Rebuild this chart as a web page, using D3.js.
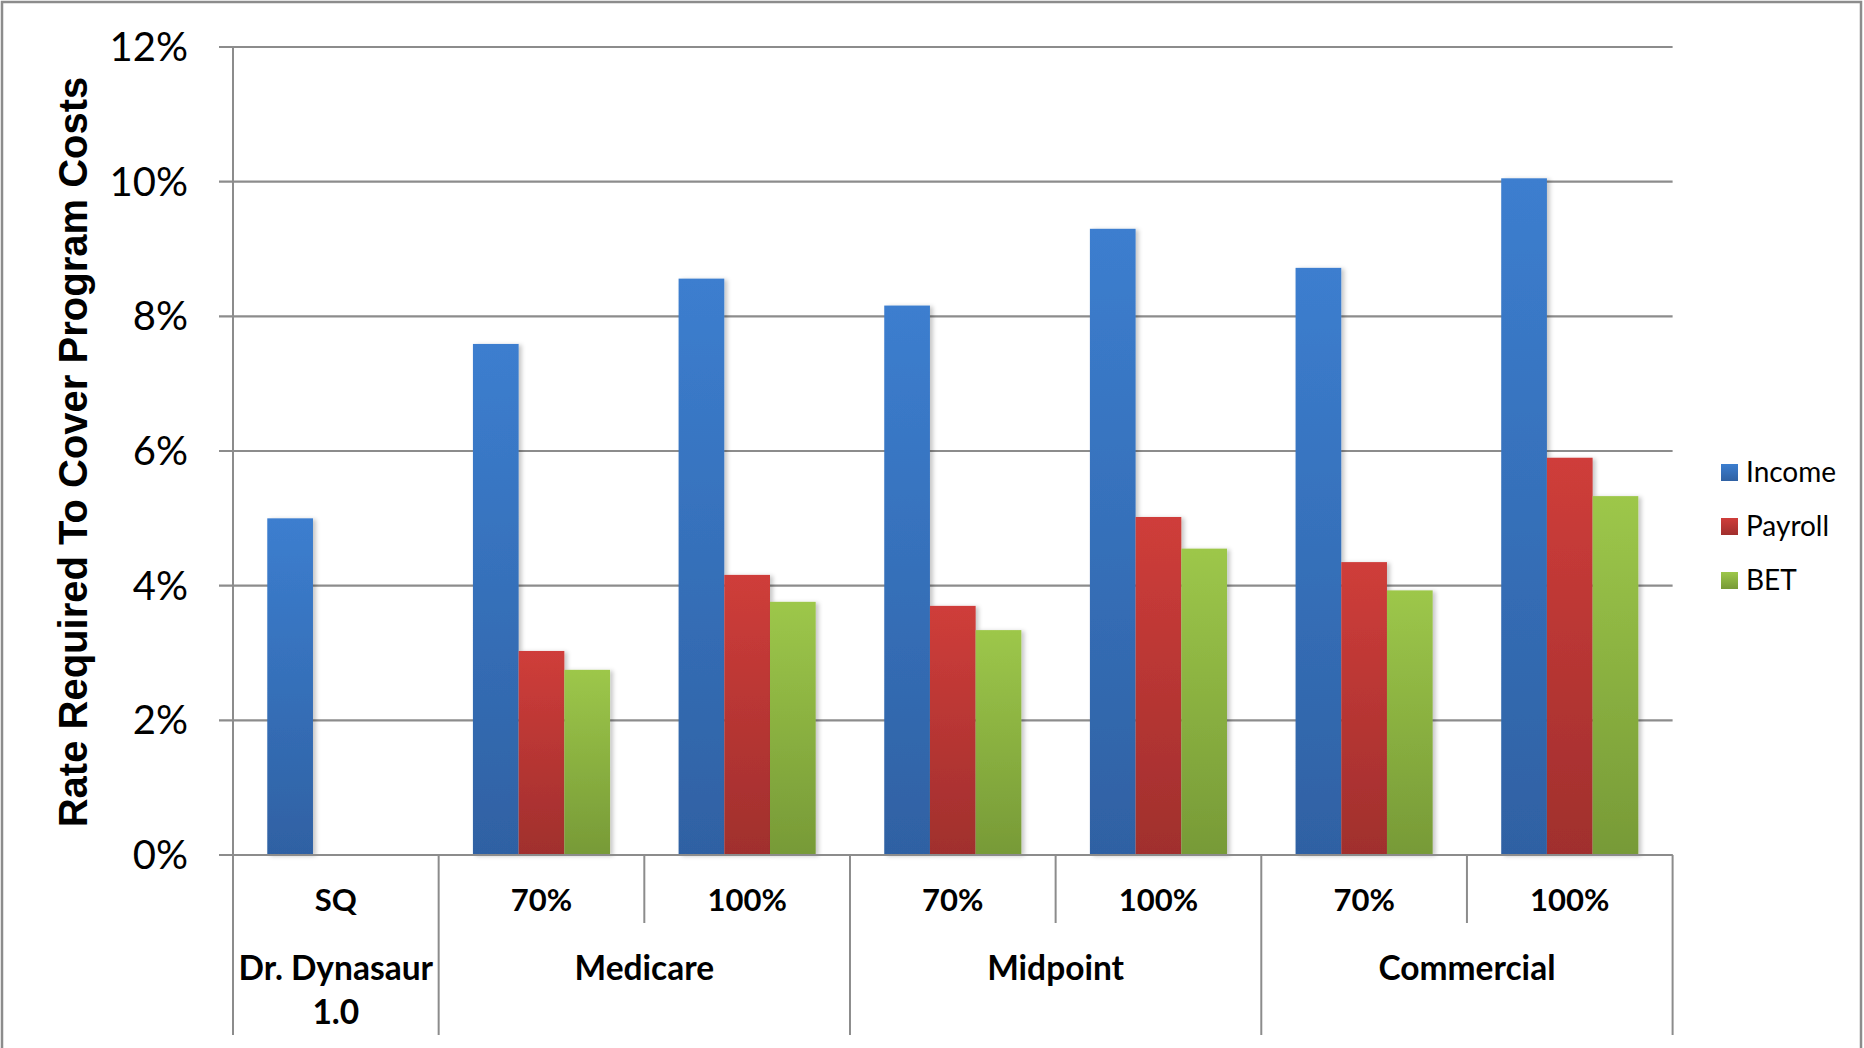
<!DOCTYPE html>
<html><head><meta charset="utf-8">
<script src="https://cdn.jsdelivr.net/npm/d3@7/dist/d3.min.js"></script>
<style>body{margin:0;background:#fff}svg{display:block}</style>
</head><body>
<script>
const subLabels = ["SQ","70%","100%","70%","100%","70%","100%"];
const groupLabels = [["Dr. Dynasaur","1.0"],["Medicare"],["Midpoint"],["Commercial"]];
const groupSpans = [1,2,2,2];
const seriesNames = ["Income","Payroll","BET"];
const income  = [5.00, 7.59, 8.56, 8.16, 9.30, 8.72, 10.05];
const payroll = [null, 3.03, 4.16, 3.70, 5.02, 4.35, 5.90];
const bet     = [null, 2.75, 3.76, 3.34, 4.55, 3.93, 5.33];
const yTicks = [0,2,4,6,8,10,12];
const yTitle = "Rate Required To Cover Program Costs";

const W=1864,H=1048;
const L=233,R=1672.6,T=47,B=855;
const svg=d3.select("body").append("svg").attr("width",W).attr("height",H);
const defs=svg.append("defs");
const grads=[["#3c7ecf","#2f61a3"],["#cf3d3a","#a02f2d"],["#9dc74a","#779a37"]];
grads.forEach((g,i)=>{
  const lg=defs.append("linearGradient").attr("id","g"+i).attr("x1",0).attr("y1",0).attr("x2",0).attr("y2",1);
  lg.append("stop").attr("offset","0%").attr("stop-color",g[0]);
  lg.append("stop").attr("offset","100%").attr("stop-color",g[1]);
});
const f=defs.append("filter").attr("id","sh").attr("x","-20%").attr("y","-5%").attr("width","150%").attr("height","110%");
f.append("feDropShadow").attr("dx",3).attr("dy",1).attr("stdDeviation",2).attr("flood-color","#000").attr("flood-opacity",0.22);

// outer border
svg.append("rect").attr("x",2).attr("y",2).attr("width",1859).attr("height",1100)
  .attr("fill","none").attr("stroke","#8c8c8c").attr("stroke-width",2.5);

const x=d3.scaleBand().domain(d3.range(subLabels.length)).range([L,R]).paddingInner(1/3).paddingOuter(1/6);
const xs=d3.scaleBand().domain(seriesNames).range([0,x.bandwidth()]);
const y=d3.scaleLinear().domain([0,12]).range([B,T]);
const step=x.step();

// gridlines + ticks
const gc="#8c8c8c";
svg.append("g").selectAll("line").data(yTicks).join("line")
  .attr("x1",L-14).attr("x2",R).attr("y1",d=>y(d)).attr("y2",d=>y(d))
  .attr("stroke",gc).attr("stroke-width",2.2);
svg.append("g").selectAll("text").data(yTicks).join("text")
  .attr("x",188).attr("y",d=>y(d)+14).attr("text-anchor","end")
  .attr("font-family","Lato").attr("font-size",40).attr("fill","#000")
  .text(d=>d+"%");

// y axis line extended down
svg.append("line").attr("x1",L).attr("x2",L).attr("y1",T).attr("y2",1035).attr("stroke",gc).attr("stroke-width",2);
// dividers
let cum=0;
const groupStarts=[];
groupSpans.forEach(s=>{groupStarts.push(cum);cum+=s;});
for(let i=1;i<=subLabels.length;i++){
  const isGroup = groupStarts.includes(i) || i===subLabels.length;
  const xx=L+i*step;
  svg.append("line").attr("x1",xx).attr("x2",xx).attr("y1",B).attr("y2",isGroup?1035:923)
    .attr("stroke",gc).attr("stroke-width",2);
}

// bars
const series=[income,payroll,bet];
series.forEach((vals,si)=>{
  svg.append("g").selectAll("rect").data(vals.map((v,i)=>({v,i}))).join("rect")
    .filter(d=>d.v!=null)
    .attr("x",d=>x(d.i)+xs(seriesNames[si]))
    .attr("y",d=>y(d.v))
    .attr("width",xs.bandwidth())
    .attr("height",d=>y(0)-y(d.v))
    .attr("fill","url(#g"+si+")")
    .attr("filter","url(#sh)");
});
svg.append("line").attr("x1",L-14).attr("x2",R).attr("y1",B).attr("y2",B).attr("stroke",gc).attr("stroke-width",2.2);

// sub labels
svg.append("g").selectAll("text").data(subLabels).join("text")
  .attr("x",(d,i)=>x(i)+x.bandwidth()/2).attr("y",911).attr("text-anchor","middle")
  .attr("font-family","Lato").attr("font-weight","bold").attr("font-size",31).text(d=>d);
// group labels
groupLabels.forEach((lines,gi)=>{
  const s=groupStarts[gi], e=s+groupSpans[gi];
  const cx=L+(s+e)/2*step;
  lines.forEach((t,li)=>{
    svg.append("text").attr("x",cx).attr("y",980+li*44).attr("text-anchor","middle")
      .attr("font-family","Lato").attr("font-weight","bold").attr("font-size",33.5).text(t);
  });
});

// y title
svg.append("text").attr("transform","translate(87,452) rotate(-90)").attr("text-anchor","middle")
  .attr("font-family","Liberation Sans").attr("font-weight","bold").attr("font-size",40).text(yTitle);

// legend
const lg=svg.append("g");
seriesNames.forEach((n,i)=>{
  lg.append("rect").attr("x",1721).attr("y",464+i*54).attr("width",17).attr("height",17).attr("fill","url(#g"+i+")");
  lg.append("text").attr("x",1746).attr("y",482+i*54).attr("font-family","Lato").attr("font-size",28).text(n);
});
</script>
</body></html>
